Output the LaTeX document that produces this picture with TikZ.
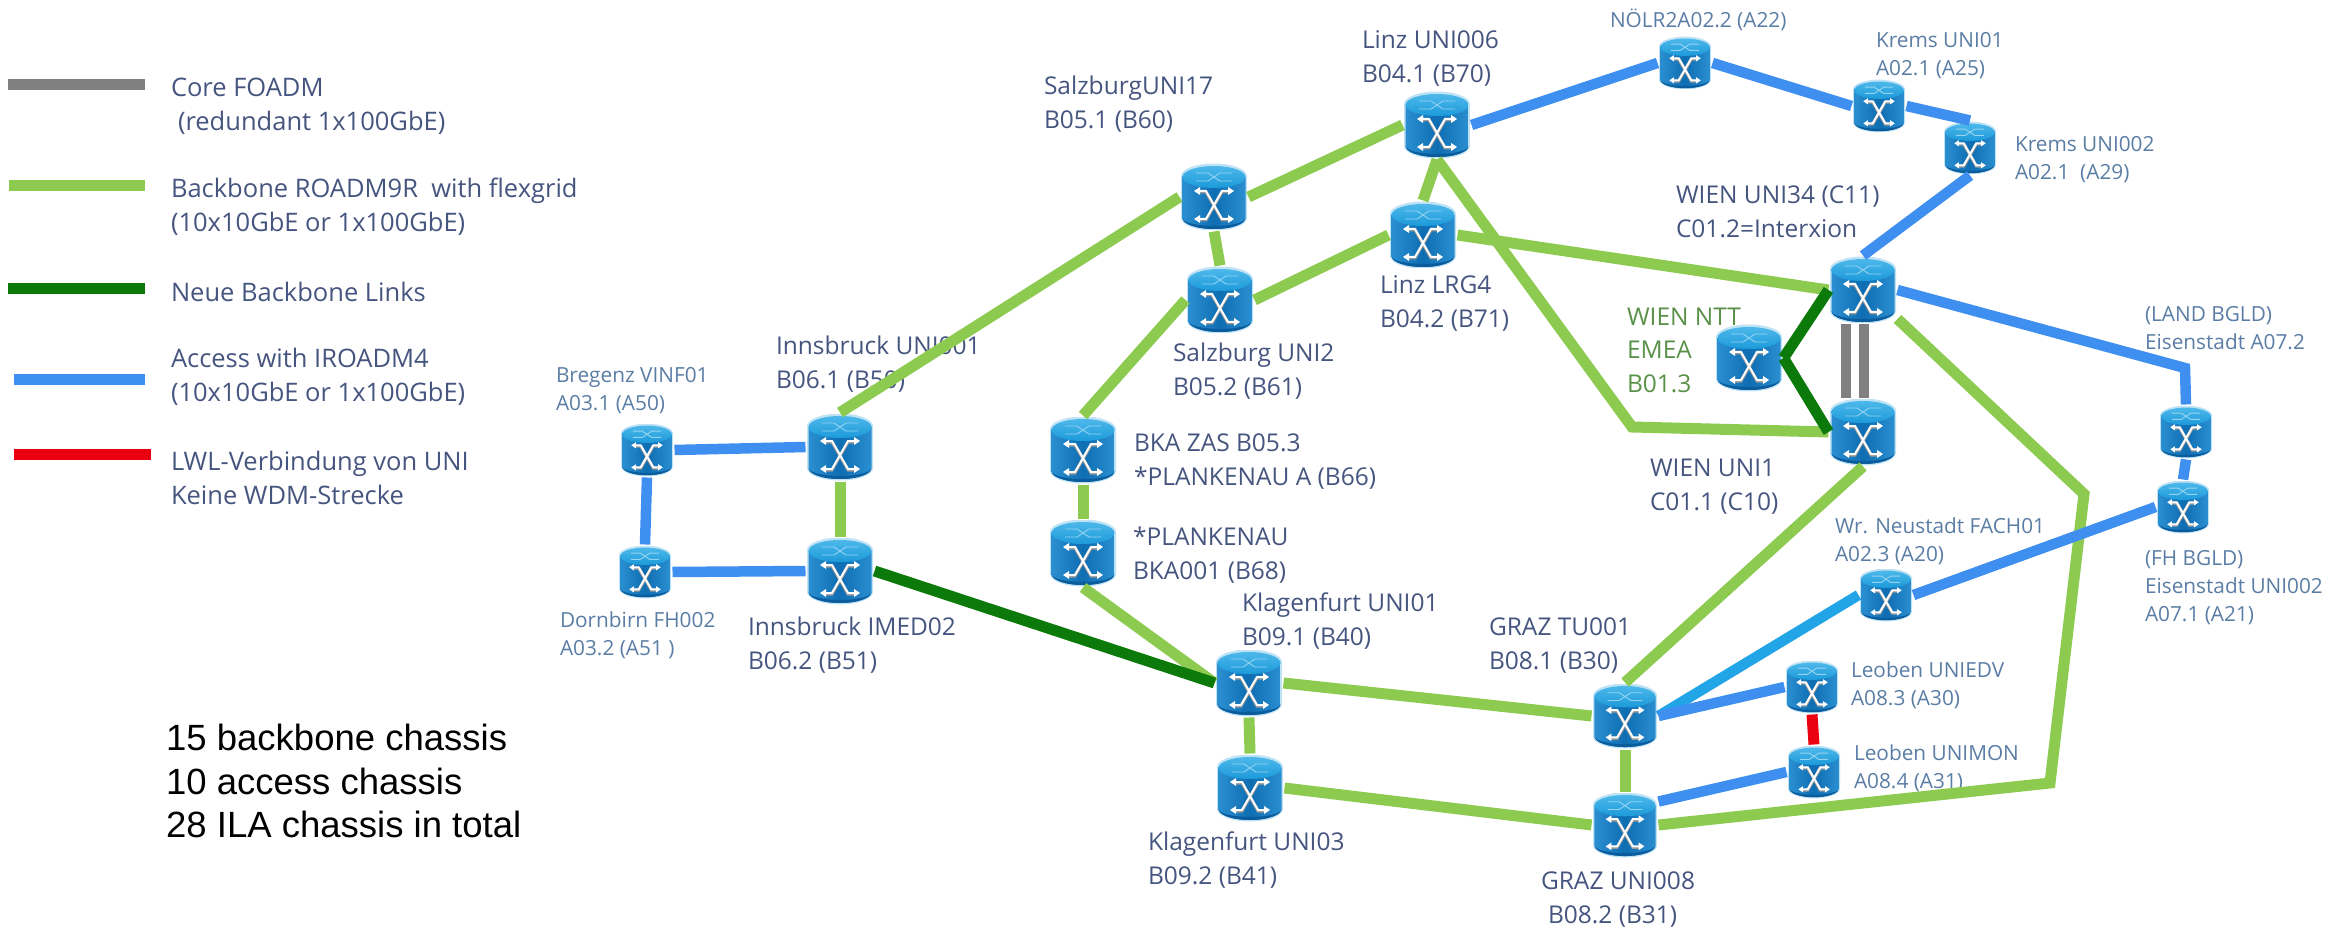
\documentclass[tikz,border=0pt]{standalone}
\usepackage{fontspec}
\setmainfont{Open Sans}
\newfontfamily\arialfont{Liberation Sans}
\usetikzlibrary{calc}
\definecolor{cBack}{HTML}{8CCB50}
\definecolor{cNew}{HTML}{0B7A0B}
\definecolor{cAcc}{HTML}{3E8FF0}
\definecolor{cAccL}{HTML}{22A5E6}
\definecolor{cCore}{HTML}{808080}
\definecolor{cRed}{HTML}{EA0010}
\definecolor{cTxt}{HTML}{46557F}
\definecolor{cTxtS}{HTML}{5A7DA5}
\definecolor{cTxtG}{HTML}{5A9148}
\definecolor{cBody}{HTML}{0F6DB2}
\definecolor{cBodyL}{HTML}{2A8FD0}
\definecolor{cTop}{HTML}{1C9ADA}
\definecolor{cTopL}{HTML}{4DB8EA}
\definecolor{cDark}{HTML}{0A5C9C}
\definecolor{cHalo}{HTML}{BFE2F5}
\newcommand{\routericon}{%
  \path[fill=cHalo] (-33,21) -- (-33,-21) arc[start angle=180,end angle=360,x radius=33,y radius=12.5] -- (33,21) arc[start angle=0,end angle=180,x radius=33,y radius=12.5] -- cycle;
  \shade[left color=cBodyL,right color=cBodyL,middle color=cBody] (-31.5,20) -- (-31.5,-21) arc[start angle=180,end angle=360,x radius=31.5,y radius=11] -- (31.5,20) -- cycle;
  \path[fill=cDark] (-31.5,-21) arc[start angle=180,end angle=360,x radius=31.5,y radius=11] arc[start angle=0,end angle=-180,x radius=31.5,y radius=8] -- cycle;
  \shade[top color=cTopL,bottom color=cTop] (0,20) ellipse[x radius=31.5,y radius=11];
  \path[draw=cTopL!60!white,line width=0.9] (-18,24) -- (-6,24) -- (6,16) -- (18,16) (18,24) -- (6,24) -- (-6,16) -- (-18,16);
  \path[draw=gray!80,line width=3] (-16,5) -- (-8,5) -- (8,-23) -- (16,-23) (16,5) -- (8,5) -- (-8,-23) -- (-16,-23);
  \path[draw=white,line width=2] (-16,6) -- (-8,6) -- (8,-22) -- (16,-22) (16,6) -- (8,6) -- (-8,-22) -- (-16,-22);
  \path[fill=white] (-20,6) -- (-14,10) -- (-14,2) -- cycle;
  \path[fill=white] (20,-22) -- (14,-18) -- (14,-26) -- cycle;
  \path[fill=white] (20,6) -- (14,10) -- (14,2) -- cycle;
  \path[fill=white] (-20,-22) -- (-14,-18) -- (-14,-26) -- cycle;
}
\tikzset{
  router/.style={rectangle,draw=none,minimum size=#1,inner sep=0pt,outer sep=1.5pt,
    path picture={\begin{scope}[shift={(path picture bounding box.center)},x=#1/66*1pt,y=#1/66*1pt,line width=#1/66*1pt]\routericon\end{scope}}},
  big/.style={router=66},
  small/.style={router=52},
  link/.style={line width=11,line cap=butt,line join=miter},
  backbone/.style={link,draw=cBack},
  newlink/.style={link,draw=cNew},
  access/.style={link,draw=cAcc,line width=10.5},
  accessl/.style={link,draw=cAccL,line width=10.5},
  core/.style={link,draw=cCore,line width=10},
  fibre/.style={link,draw=cRed},
  lab/.style={anchor=west,inner sep=0pt,outer sep=0pt,align=left,text=cTxt,font=\fontsize{24.5}{34}\selectfont},
  labs/.style={lab,text=cTxtS,font=\fontsize{20.8}{28}\selectfont},
  labg/.style={lab,text=cTxtG,font=\fontsize{24.5}{33.5}\selectfont},
  lege/.style={lab,font=\fontsize{25.5}{34}\selectfont},
  legline/.style={line width=11,line cap=butt},
  note/.style={anchor=west,inner sep=0pt,align=left,text=black,font=\arialfont\fontsize{36.5}{43.5}\selectfont},
}
\begin{document}
\begin{tikzpicture}[x=1pt,y=-1pt]
\useasboundingbox (0,0) rectangle (2346,933);
% legend
\coordinate (l1a) at (8,85);   \coordinate (l1b) at (145,85);
\coordinate (l2a) at (9,186);  \coordinate (l2b) at (145,186);
\coordinate (l3a) at (8,289);  \coordinate (l3b) at (145,289);
\coordinate (l4a) at (14,379); \coordinate (l4b) at (145,379);
\coordinate (l5a) at (14,454); \coordinate (l5b) at (151,454);
\draw[legline,cCore] (l1a) -- (l1b);
\draw[legline,cBack] (l2a) -- (l2b);
\draw[legline,cNew] (l3a) -- (l3b);
\draw[legline,cAcc] (l4a) -- (l4b);
\draw[legline,cRed] (l5a) -- (l5b);
\node[lege] (t1) at (171,106) {Core FOADM\\\hspace*{7pt}(redundant 1x100GbE)};
\node[lege] (t2) at (171,207) {Backbone ROADM9R\ \ with flexgrid\\(10x10GbE or 1x100GbE)};
\node[lege] (t3) at (171,292) {Neue Backbone Links};
\node[lege] (t4) at (171,377) {Access with IROADM4\\(10x10GbE or 1x100GbE)};
\node[lege] (t5) at (171,478) {LWL-Verbindung von UNI\\Keine WDM-Strecke};
\node[note] (tn) at (166,781) {15 backbone chassis\\10 access chassis\\28 ILA chassis in total};
% labels
\node[lab] (lLinz) at (1362,58) {Linz UNI006\\B04.1 (B70)};
\node[lab] (lSal17) at (1044,104) {SalzburgUNI17\\B05.1 (B60)};
\node[lab] (lLRG) at (1380,303) {Linz LRG4\\B04.2 (B71)};
\node[lab] (lSal2) at (1173,371) {Salzburg UNI2\\B05.2 (B61)};
\node[lab] (lW34) at (1676,212) {WIEN UNI34 (C11)\\C01.2=Interxion};
\node[labg] (lNTT) at (1627,350) {WIEN NTT\\EMEA\\B01.3};
\node[lab] (lW1) at (1650,487) {WIEN UNI1\\C01.1 (C10)};
\node[labs] (lNOE) at (1610,20) {NÖLR2A02.2 (A22)};
\node[labs] (lK1) at (1876,56) {Krems UNI01\\A02.1 (A25)};
\node[labs] (lK2) at (2015,160) {Krems UNI002\\A02.1\ \ (A29)};
\node[labs] (lLand) at (2145,328) {(LAND BGLD)\\Eisenstadt A07.2};
\node[labs] (lFH) at (2145,588) {(FH BGLD)\\Eisenstadt UNI002\\A07.1 (A21)};
\node[labs] (lWr) at (1835,541) {Wr. Neustadt FACH01\\A02.3 (A20)};
\node[labs] (lLe1) at (1851,685) {Leoben UNIEDV\\A08.3 (A30)};
\node[labs] (lLe2) at (1854,768) {Leoben UNIMON\\A08.4 (A31)};
\node[lab] (lGT) at (1489,646) {GRAZ TU001\\B08.1 (B30)};
\node[lab] (lGU) at (1541,900) {GRAZ UNI008\\\hspace*{7pt}B08.2 (B31)};
\node[lab] (lKl1) at (1242,621) {Klagenfurt UNI01\\B09.1 (B40)};
\node[lab] (lKl3) at (1148,860) {Klagenfurt UNI03\\B09.2 (B41)};
\node[lab] (lBKA) at (1134,462) {BKA ZAS B05.3\\*PLANKENAU A (B66)};
\node[lab] (lPL) at (1133,555) {*PLANKENAU\\BKA001 (B68)};
\node[lab] (lI1) at (776,364) {Innsbruck UNI001\\B06.1 (B50)};
\node[lab] (lI2) at (748,645) {Innsbruck IMED02\\B06.2 (B51)};
\node[labs] (lBr) at (556,391) {Bregenz VINF01\\A03.1 (A50)};
\node[labs] (lDo) at (560,635) {Dornbirn FH002\\A03.2 (A51 )};
% routers
\node[big] (Linz) at (1437,125) {};
\node[big] (Sal17) at (1214,197) {};
\node[big] (Sal2) at (1220,300) {};
\node[big] (LRG) at (1423,235) {};
\node[big] (W34) at (1863,290) {};
\node[big] (NTT) at (1749,358) {};
\node[big] (W1) at (1863,432) {};
\node[small] (NOE) at (1685,63) {};
\node[small] (K1) at (1879,106) {};
\node[small] (K2) at (1970,148) {};
\node[small] (Land) at (2186,432) {};
\node[small] (FH) at (2183,507) {};
\node[small] (Wr) at (1886,595) {};
\node[small] (Le1) at (1812,687) {};
\node[small] (Le2) at (1814,772) {};
\node[router=64] (GT) at (1625,716) {};
\node[router=64] (GU) at (1625,825) {};
\node[big] (Kl1) at (1249,683) {};
\node[big] (Kl3) at (1250,788) {};
\node[big] (BKA) at (1083,450) {};
\node[big] (PL) at (1083,553) {};
\node[big] (I1) at (840,447) {};
\node[big] (I2) at (840,571) {};
\node[small] (Br) at (647,450) {};
\node[small] (Do) at (645,572) {};
% bends
\coordinate (bW1) at (1632,427);
\coordinate (bLand) at (2185,368);
\coordinate (bG1) at (2084,494);
\coordinate (bG2) at (2050,783);
% links
\draw[backbone] (I1.north) -- (Sal17.west);
\draw[backbone] (Sal17.east) -- (Linz.west);
\draw[backbone] (Sal17.south) -- (Sal2.north);
\draw[backbone] (Sal2.east) -- (LRG.west);
\draw[backbone] (Sal2.west) -- (BKA.north);
\draw[backbone] (BKA.south) -- (PL.north);
\draw[backbone] (PL.south) -- (Kl1.west);
\draw[backbone] (Linz.south) -- (LRG.north);
\draw[backbone] (Linz.south) -- (bW1) -- (W1.west);
\draw[backbone] (LRG.east) -- (W34.west);
\draw[backbone] (W34.-40) -- (bG1) -- (bG2) -- (GU.east);
\draw[backbone] (W1.south) -- (GT.north);
\draw[backbone] (Kl1.south) -- (Kl3.north);
\draw[backbone] (Kl1.east) -- (GT.west);
\draw[backbone] (Kl3.east) -- (GU.west);
\draw[backbone] (GT.south) -- (GU.north);
\draw[backbone] (I1.south) -- (I2.north);
\draw[newlink] (I2.east) -- (Kl1.west);
\draw[newlink] (NTT.east) -- (W34.west);
\draw[newlink] (NTT.east) -- (W1.west);
\draw[core] ([xshift=-17pt]W34.south) -- ([xshift=-17pt]W1.north);
\draw[core] ([xshift=1pt]W34.south) -- ([xshift=1pt]W1.north);
\draw[access] (Linz.east) -- (NOE.west);
\draw[access] (NOE.east) -- (K1.west);
\draw[access] (K1.east) -- (K2.north);
\draw[access] (K2.south) -- (W34.north);
\draw[access] (W34.east) -- (bLand) -- (Land.north);
\draw[access] (Land.south) -- (FH.north);
\draw[access] (Wr.east) -- (FH.west);
\draw[accessl] (GT.east) -- (Wr.west);
\draw[access] (GT.east) -- (Le1.west);
\draw[access] (GU.35) -- (Le2.west);
\draw[access] (Br.east) -- (I1.west);
\draw[access] (Br.south) -- (Do.north);
\draw[access] (Do.east) -- (I2.west);
\draw[fibre] (Le1.south) -- (Le2.north);
\end{tikzpicture}
\end{document}
